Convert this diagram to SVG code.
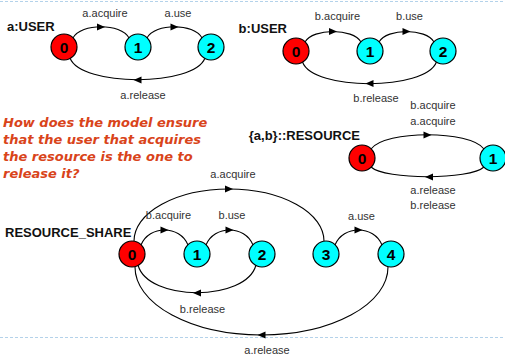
<svg xmlns="http://www.w3.org/2000/svg" width="505" height="356" viewBox="0 0 505 356">
<style>
.bg{fill:#ffffff}
.sep{stroke:#b4d2ea;stroke-width:1;stroke-dasharray:3,2;fill:none}
.edge{fill:none;stroke:#000;stroke-width:1.1}
.ah{fill:#000}
.red{fill:#ff0000;stroke:#000;stroke-width:1.2}
.cyan{fill:#00ffff;stroke:#000;stroke-width:1.2}
.num{font-family:"Liberation Sans",Arial,sans-serif;font-weight:bold;font-size:15.5px;text-anchor:middle;fill:#000}
.lbl{font-family:"Liberation Sans",Arial,sans-serif;font-size:11px;text-anchor:middle;fill:#333}
.title{font-family:"Liberation Sans",Arial,sans-serif;font-weight:bold;font-size:13px;fill:#111}
.q{font-family:"DejaVu Sans",Verdana,sans-serif;font-weight:bold;font-style:italic;font-size:13px;fill:#d9441a}
</style>
<defs>
<path id="ar" d="M4,0 L-4,-3.6 L-4,3.6 Z"/>
<path id="al" d="M-4,0 L4,-3.6 L4,3.6 Z"/>
</defs>
<rect class="bg" x="0" y="0" width="505" height="356"/>
<line class="sep" x1="0" y1="1.5" x2="505" y2="1.5"/>
<line class="sep" x1="0" y1="337.5" x2="505" y2="337.5"/>

<g id="connectors">
<!-- a:USER -->
<path class="edge" d="M73,38 C81,23 121,23 129,38"/>
<use href="#ar" class="ah" x="101" y="27"/>
<path class="edge" d="M147,38 C155,23 194,23 202,38"/>
<use href="#ar" class="ah" x="174.5" y="27"/>
<path class="edge" d="M205,58 C194,87 81,87 70,58"/>
<use href="#al" class="ah" x="137.5" y="80"/>
<!-- b:USER -->
<path class="edge" d="M305,42 C313,28 353,28 361,42"/>
<use href="#ar" class="ah" x="333" y="31.5"/>
<path class="edge" d="M379,42 C387,28 426,28 434,42"/>
<use href="#ar" class="ah" x="406.5" y="31.5"/>
<path class="edge" d="M436.5,62 C425,91 313,91 302.5,62"/>
<use href="#al" class="ah" x="369.5" y="83.5"/>
<!-- RESOURCE -->
<path class="edge" d="M371,149 C385,130 470,130 484,149"/>
<use href="#ar" class="ah" x="427.5" y="135"/>
<path class="edge" d="M484,167 C470,180 385,180 371,167"/>
<use href="#al" class="ah" x="429" y="177"/>
<!-- RESOURCE_SHARE -->
<path class="edge" d="M141,245 C149,225 180,225 188,245"/>
<use href="#ar" class="ah" x="164.5" y="230"/>
<path class="edge" d="M206,245 C214,225 245,225 253,245"/>
<use href="#ar" class="ah" x="229.5" y="230"/>
<path class="edge" d="M335,245 C343,225 374,225 382,245"/>
<use href="#ar" class="ah" x="358.5" y="230"/>
<path class="edge" d="M256,265 C246,302 148,302 138,265"/>
<use href="#al" class="ah" x="197" y="293"/>
<path class="edge" d="M134,241 A95,52 0 0 1 324,241"/>
<use href="#ar" class="ah" x="229" y="189"/>
<path class="edge" d="M388,267 A126.5,68 0 0 1 135,267"/>
<use href="#al" class="ah" x="261.5" y="335"/>
</g>

<g id="labels">
<text class="lbl" x="105" y="17">a.acquire</text>
<text class="lbl" x="178" y="17">a.use</text>
<text class="lbl" x="143" y="99">a.release</text>
<text class="lbl" x="337.5" y="20">b.acquire</text>
<text class="lbl" x="409.5" y="20">b.use</text>
<text class="lbl" x="376" y="102">b.release</text>
<text class="lbl" x="433" y="109">b.acquire</text>
<text class="lbl" x="433" y="125">a.acquire</text>
<text class="lbl" x="433" y="194">a.release</text>
<text class="lbl" x="433" y="209">b.release</text>
<text class="lbl" x="233" y="178">a.acquire</text>
<text class="lbl" x="168.5" y="219">b.acquire</text>
<text class="lbl" x="232" y="219">b.use</text>
<text class="lbl" x="361.5" y="220">a.use</text>
<text class="lbl" x="202.5" y="313">b.release</text>
<text class="lbl" x="267" y="354">a.release</text>
</g>

<g id="titles">
<text class="title" x="7" y="31">a:USER</text>
<text class="title" x="287" y="33" text-anchor="end">b:USER</text>
<text class="title" x="360" y="140" text-anchor="end">{a,b}::RESOURCE</text>
<text class="title" x="5" y="237">RESOURCE_SHARE</text>
</g>

<g id="question">
<text class="q" x="3" y="127">How does the model ensure</text>
<text class="q" x="3" y="144">that the user that acquires</text>
<text class="q" x="3" y="161">the resource is the one to</text>
<text class="q" x="3" y="178">release it?</text>
</g>

<g id="aUSER_0"><circle class="red" cx="64" cy="47" r="13"/><text class="num" x="64" y="52.5">0</text></g>
<g id="aUSER_1"><circle class="cyan" cx="138" cy="47" r="13"/><text class="num" x="138" y="52.5">1</text></g>
<g id="aUSER_2"><circle class="cyan" cx="211" cy="47" r="13"/><text class="num" x="211" y="52.5">2</text></g>

<g id="bUSER_0"><circle class="red" cx="296" cy="51" r="13"/><text class="num" x="296" y="56.5">0</text></g>
<g id="bUSER_1"><circle class="cyan" cx="370" cy="51" r="13"/><text class="num" x="370" y="56.5">1</text></g>
<g id="bUSER_2"><circle class="cyan" cx="443" cy="51" r="13"/><text class="num" x="443" y="56.5">2</text></g>

<g id="RES_0"><circle class="red" cx="362" cy="158" r="13"/><text class="num" x="362" y="163.5">0</text></g>
<g id="RES_1"><circle class="cyan" cx="493" cy="158" r="13"/><text class="num" x="493" y="163.5">1</text></g>

<g id="RS_0"><circle class="red" cx="132" cy="254" r="13"/><text class="num" x="132" y="259.5">0</text></g>
<g id="RS_1"><circle class="cyan" cx="197" cy="254" r="13"/><text class="num" x="197" y="259.5">1</text></g>
<g id="RS_2"><circle class="cyan" cx="262" cy="254" r="13"/><text class="num" x="262" y="259.5">2</text></g>
<g id="RS_3"><circle class="cyan" cx="326" cy="254" r="13"/><text class="num" x="326" y="259.5">3</text></g>
<g id="RS_4"><circle class="cyan" cx="391" cy="254" r="13"/><text class="num" x="391" y="259.5">4</text></g>
</svg>
